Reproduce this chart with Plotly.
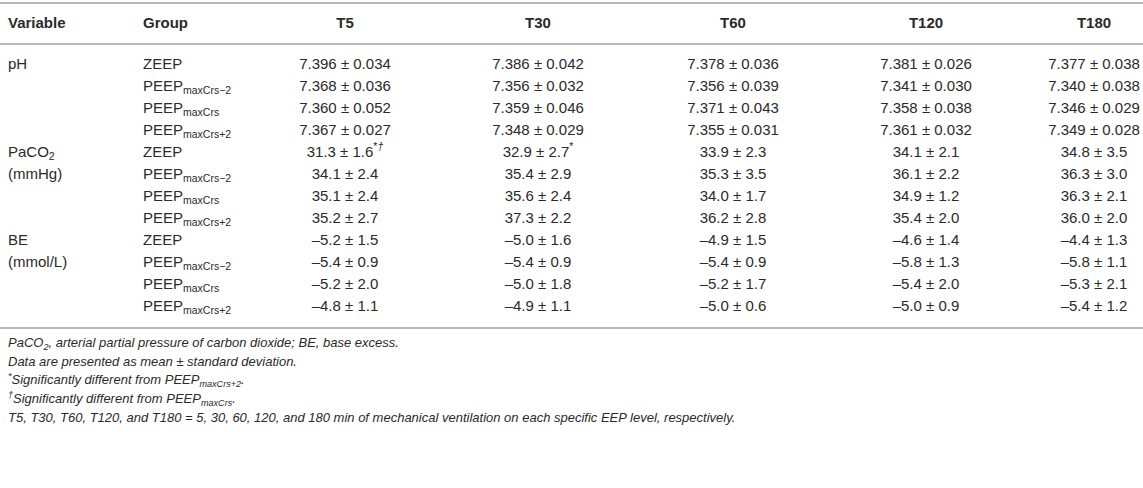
import plotly.graph_objects as go

# table content
headers = ["Variable", "Group", "T5", "T30", "T60", "T120", "T180"]
variables = ["pH", "", "", "", "PaCO<sub>2</sub>", "(mmHg)", "", "", "BE", "(mmol/L)", "", ""]
groups = ["ZEEP", "PEEP<sub>maxCrs−2</sub>", "PEEP<sub>maxCrs</sub>", "PEEP<sub>maxCrs+2</sub>"] * 3

t5 = ["7.396 ± 0.034", "7.368 ± 0.036", "7.360 ± 0.052", "7.367 ± 0.027",
      "31.3 ± 1.6<sup>*<i>†</i></sup>", "34.1 ± 2.4", "35.1 ± 2.4", "35.2 ± 2.7",
      "–5.2 ± 1.5", "–5.4 ± 0.9", "–5.2 ± 2.0", "–4.8 ± 1.1"]
t30 = ["7.386 ± 0.042", "7.356 ± 0.032", "7.359 ± 0.046", "7.348 ± 0.029",
       "32.9 ± 2.7<sup>*</sup>", "35.4 ± 2.9", "35.6 ± 2.4", "37.3 ± 2.2",
       "–5.0 ± 1.6", "–5.4 ± 0.9", "–5.0 ± 1.8", "–4.9 ± 1.1"]
t60 = ["7.378 ± 0.036", "7.356 ± 0.039", "7.371 ± 0.043", "7.355 ± 0.031",
       "33.9 ± 2.3", "35.3 ± 3.5", "34.0 ± 1.7", "36.2 ± 2.8",
       "–4.9 ± 1.5", "–5.4 ± 0.9", "–5.2 ± 1.7", "–5.0 ± 0.6"]
t120 = ["7.381 ± 0.026", "7.341 ± 0.030", "7.358 ± 0.038", "7.361 ± 0.032",
        "34.1 ± 2.1", "36.1 ± 2.2", "34.9 ± 1.2", "35.4 ± 2.0",
        "–4.6 ± 1.4", "–5.8 ± 1.3", "–5.4 ± 2.0", "–5.0 ± 0.9"]
t180 = ["7.377 ± 0.038", "7.340 ± 0.038", "7.346 ± 0.029", "7.349 ± 0.028",
        "34.8 ± 3.5", "36.3 ± 3.0", "36.3 ± 2.1", "36.0 ± 2.0",
        "–4.4 ± 1.3", "–5.8 ± 1.1", "–5.3 ± 2.1", "–5.4 ± 1.2"]

footnotes = [
    "PaCO<sub>2</sub>, arterial partial pressure of carbon dioxide; BE, base excess.",
    "Data are presented as mean ± standard deviation.",
    "<sup>*</sup>Significantly different from PEEP<sub>maxCrs+2</sub>.",
    "<sup>†</sup>Significantly different from PEEP<sub>maxCrs</sub>.",
    "T5, T30, T60, T120, and T180 = 5, 30, 60, 120, and 180 min of mechanical ventilation on each specific EEP level, respectively.",
]

columns = [variables, groups, t5, t30, t60, t120, t180]
col_x = [8, 143, 345, 538, 733, 926, 1094]
col_pos = ["middle right", "middle right"] + ["middle center"] * 5

W, H = 1143, 488
ROW0, ROWH = 65, 22  # pixel centre of first row, row pitch


def to_row(pix):
    return (pix - ROW0) / ROWH


txt = "#2a2a2a"
fnt = dict(family="Liberation Sans, Arial, sans-serif", size=15, color=txt)
rows = list(range(len(t5)))

fig = go.Figure()
for col, x, pos in zip(columns, col_x, col_pos):
    fig.add_trace(go.Scatter(x=[x] * len(col), y=rows, mode="text", text=col,
                             textposition=pos, textfont=fnt, hoverinfo="skip",
                             cliponaxis=False))

fig.add_trace(go.Scatter(x=col_x, y=[to_row(24)] * len(headers), mode="text",
                         text=["<b>%s</b>" % h for h in headers], textposition=col_pos,
                         textfont=fnt, hoverinfo="skip", cliponaxis=False))

# horizontal rules
for pix in [3, 44, 328]:
    fig.add_shape(type="line", xref="paper", x0=0, x1=1, y0=to_row(pix), y1=to_row(pix),
                  line=dict(color="#b8b8b8", width=2))

for i, note in enumerate(footnotes):
    fig.add_annotation(xref="x", x=6, xanchor="left", yref="y",
                       y=to_row(343 + i * 18.5), yanchor="middle", showarrow=False,
                       text="<i>%s</i>" % note,
                       font=dict(family="Liberation Sans, Arial, sans-serif", size=13, color=txt))

fig.update_xaxes(range=[0, W], visible=False, fixedrange=True)
fig.update_yaxes(range=[to_row(H), to_row(0)], visible=False, fixedrange=True)
fig.update_layout(width=W, height=H, margin=dict(l=0, r=0, t=0, b=0),
                  showlegend=False, plot_bgcolor="white", paper_bgcolor="white")

# page body has a default 8px margin; drop it so the figure sits at the window origin
fig.write_html("out.html", config={"displayModeBar": False},
               post_script="document.body.style.margin='0';")
